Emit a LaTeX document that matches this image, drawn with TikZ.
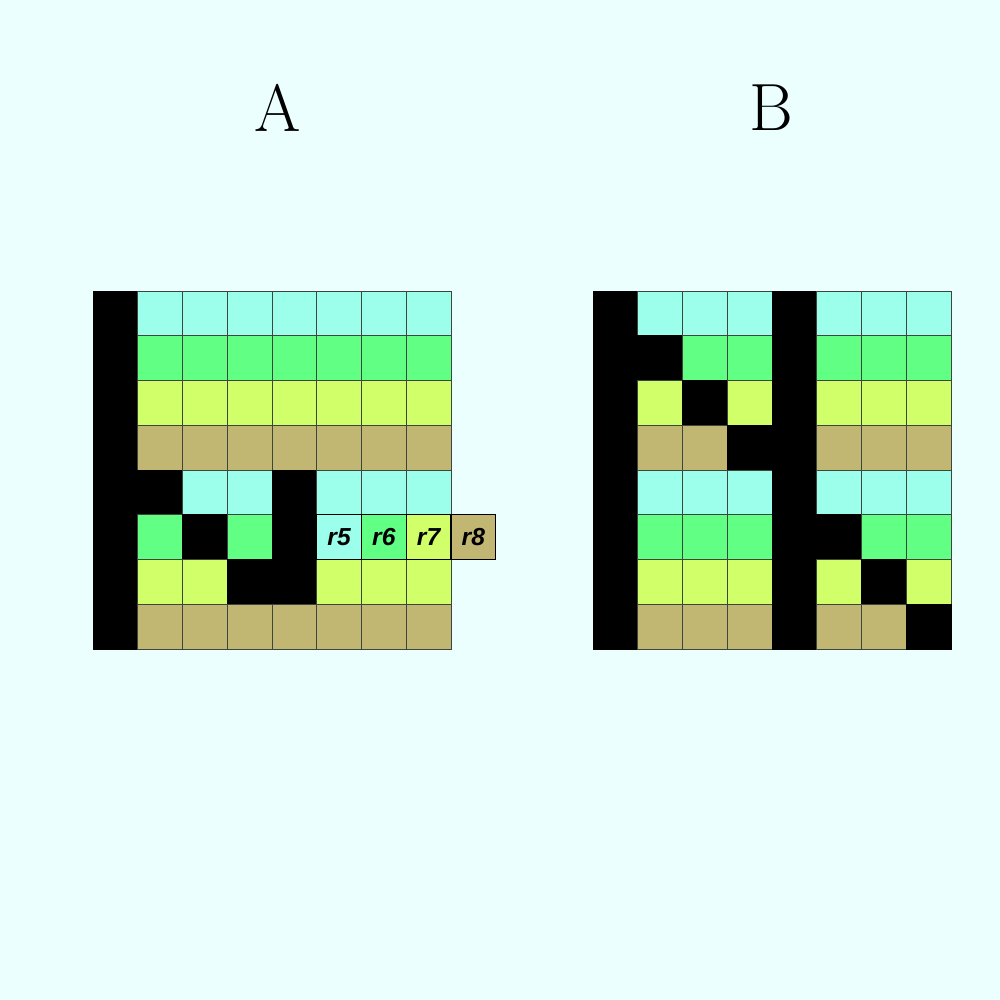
\documentclass[tikz,border=0pt]{standalone}
\usepackage{fontspec}
\newfontfamily\labfont{Liberation Sans}
\definecolor{bgc}{RGB}{235,255,254}
\definecolor{cC}{RGB}{155,255,236}
\definecolor{cG}{RGB}{97,255,132}
\definecolor{cY}{RGB}{208,255,106}
\definecolor{cT}{RGB}{194,182,115}
\definecolor{cK}{RGB}{0,0,0}
\definecolor{gridline}{RGB}{60,70,60}
\colorlet{bC}{gridline}
\colorlet{bG}{gridline}
\colorlet{bY}{gridline}
\colorlet{bT}{gridline}
\colorlet{bK}{black}
\tikzset{
  cellbox/.style={line width=0.25pt},
  title/.style={font=\fontsize{19}{22}\selectfont, inner sep=0pt},
  tagcell/.style={draw=black, line width=0.35pt, minimum width=44.75*0.01cm, minimum height=44.75*0.01cm, inner sep=0pt, font=\labfont\bfseries\itshape\fontsize{7}{8}\selectfont}
}
\newcommand{\drawgrid}[3]{%
  \foreach \rowlist [count=\j from 0] in {#3} {
    \foreach \c [count=\i from 0] in \rowlist {
      \filldraw[cellbox, fill=c\c, draw=b\c] ({#1+\i*44.75},{#2+\j*44.75}) rectangle ++(44.75,44.75);
    }
  }%
}
\begin{document}
\begin{tikzpicture}[x=0.01cm,y=-0.01cm]
\fill[bgc] (0,0) rectangle (1000,1000);
\useasboundingbox (0,0) rectangle (1000,1000);
\node[title] (la) at (278,108) {A};
\node[title] (lb) at (771,108) {B};
\drawgrid{93}{291}{{K,C,C,C,C,C,C,C},{K,G,G,G,G,G,G,G},{K,Y,Y,Y,Y,Y,Y,Y},{K,T,T,T,T,T,T,T},{K,K,C,C,K,C,C,C},{K,G,K,G,K,C,G,Y},{K,Y,Y,K,K,Y,Y,Y},{K,T,T,T,T,T,T,T}}
\drawgrid{593}{291}{{K,C,C,C,K,C,C,C},{K,K,G,G,K,G,G,G},{K,Y,K,Y,K,Y,Y,Y},{K,T,T,K,K,T,T,T},{K,C,C,C,K,C,C,C},{K,G,G,G,K,K,G,G},{K,Y,Y,Y,K,Y,K,Y},{K,T,T,T,K,T,T,K}}
\node[tagcell, fill=cC] (r5) at ({93+5.5*44.75},{291+5.5*44.75}) {r5};
\node[tagcell, fill=cG] (r6) at ({93+6.5*44.75},{291+5.5*44.75}) {r6};
\node[tagcell, fill=cY] (r7) at ({93+7.5*44.75},{291+5.5*44.75}) {r7};
\node[tagcell, fill=cT] (r8) at ({93+8.5*44.75},{291+5.5*44.75}) {r8};
\end{tikzpicture}
\end{document}
